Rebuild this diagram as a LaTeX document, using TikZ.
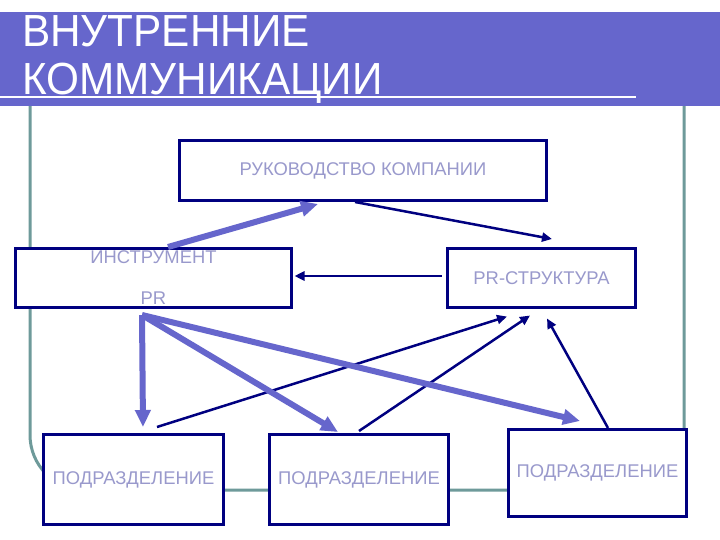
\documentclass[tikz,border=0pt]{standalone}
\usepackage{fontspec}
\setmainfont{Liberation Sans}
\usetikzlibrary{arrows.meta}
\definecolor{bannerc}{HTML}{6666CC}
\definecolor{framec}{HTML}{6E9A9A}
\definecolor{navyc}{HTML}{000080}
\definecolor{txtc}{HTML}{9999CC}
\begin{document}
\begin{tikzpicture}[x=1pt,y=-1pt,
 box/.style={draw=navyc,line width=3pt,fill=white,inner sep=0pt,font=\fontsize{18.4}{21}\selectfont,text=txtc,align=center},
 fatarrow/.style={draw=bannerc,line width=6pt,-{Triangle[length=17pt,width=15pt]}},
 thinarrow/.style={draw=navyc,line width=2.5pt,-{Triangle[length=10pt,width=9pt]}},
 titletext/.style={text=white,font=\fontsize{45}{45}\selectfont,inner sep=0pt,anchor=base west,xscale=0.94}]
\useasboundingbox (0,0) rectangle (720,540);
\fill[white] (0,0) rectangle (720,540);
% frame
\draw[framec,line width=3pt,rounded corners=55pt] (30,20) rectangle (684,490);
% banner
\fill[bannerc] (0,12) rectangle (720,106);
\node[titletext] (t1) at (22,47) {ВНУТРЕННИЕ};
\node[titletext] (t2) at (22,95) {КОММУНИКАЦИИ};
\draw[white,line width=2pt] (0,97) -- (636,97);
% boxes
\node[box,minimum width=367pt,minimum height=60pt] (top) at (363,170.5) {РУКОВОДСТВО КОМПАНИИ};
\node[box,minimum width=276pt,minimum height=59pt] (inst) at (153.5,278) {ИНСТРУМЕНТ\\[20pt]PR};
\node[box,minimum width=188pt,minimum height=59pt] (pr) at (541.5,278) {PR-СТРУКТУРА};
\node[box,minimum width=180pt,minimum height=90pt] (b1) at (133.5,479.5) {ПОДРАЗДЕЛЕНИЕ};
\node[box,minimum width=179pt,minimum height=90pt] (b2) at (359,479.5) {ПОДРАЗДЕЛЕНИЕ};
\node[box,minimum width=178pt,minimum height=87pt] (b3) at (597.5,473) {ПОДРАЗДЕЛЕНИЕ};
\coordinate (prs) at (142,315);
% thin arrows
\draw[thinarrow] ([xshift=-8pt]top.south) -- ([xshift=10.5pt,yshift=8pt]pr.north);
\draw[thinarrow] ([xshift=-4.5pt,yshift=2pt]pr.west) -- ([xshift=1.5pt,yshift=2pt]inst.east);
\draw[thinarrow] ([xshift=23.5pt,yshift=6pt]b1.north) -- ([xshift=-34.5pt,yshift=-7.5pt]pr.south);
\draw[thinarrow] ([yshift=2pt]b2.north) -- ([xshift=-11.5pt,yshift=-6.5pt]pr.south);
\draw[thinarrow] ([xshift=10.5pt]b3.north) -- ([xshift=5.5pt,yshift=-9.5pt]pr.south);
% thick arrows
\draw[fatarrow] ([xshift=14.5pt]inst.north) -- ([xshift=-45pt,yshift=-2pt]top.south);
\draw[fatarrow] (prs) -- ([xshift=9.5pt,yshift=6pt]b1.north);
\draw[fatarrow] (prs) -- ([xshift=-21pt,yshift=1pt]b2.north);
\draw[fatarrow] (prs) -- ([xshift=-17.5pt,yshift=7pt]b3.north);
\end{tikzpicture}
\end{document}
